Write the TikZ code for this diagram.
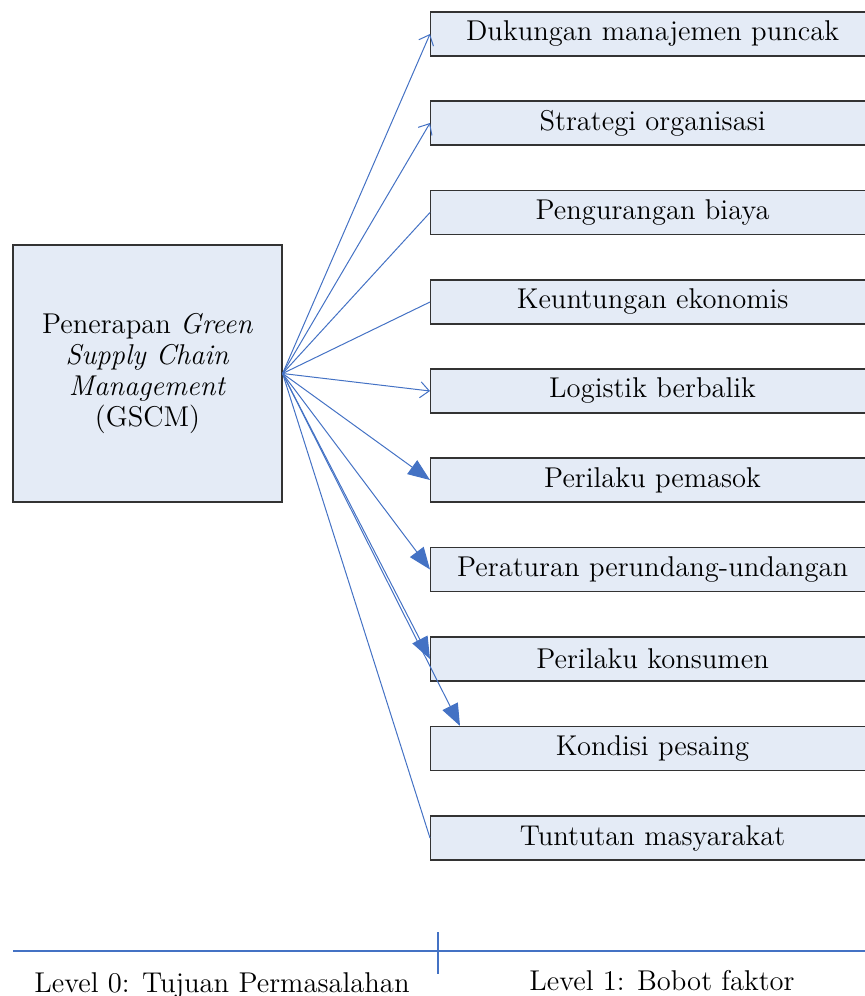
\documentclass[tikz,border=0pt]{standalone}
\usepackage{tikz}
\usetikzlibrary{arrows.meta,calc}

\definecolor{kotak}{HTML}{E4EBF6}
\definecolor{garis}{HTML}{4472C4}
\definecolor{tepi}{HTML}{333333}

\tikzset{
  huruf/.style={font=\fontsize{14.3}{15.5}\selectfont},
  faktor/.style={huruf, draw=tepi, fill=kotak, line width=0.6pt,
    minimum width=222pt, minimum height=22pt, inner sep=0pt, anchor=west},
  tujuan/.style={huruf, draw=tepi, fill=kotak, line width=0.6pt, align=center,
    minimum width=134.5pt, minimum height=128.5pt, inner sep=0pt},
  panah/.style={draw=garis, line width=0.5pt},
  buka/.style={panah, -{Straight Barb[length=4.5pt, width=8pt]}},
  penuh/.style={panah, -{Triangle[length=11pt, width=8.5pt]}},
  sekat/.style={draw=garis, line width=0.6pt}
}

\begin{document}
\begin{tikzpicture}[x=0.5pt, y=-0.5pt]

\useasboundingbox (0,0) rectangle (864,996);

%%%%%%%%%%%%%%%%%%%%%%%%%%%%%%%
\node[tujuan] (gscm) at (147.5,373.5)
  {Penerapan \textit{Green}\\ \textit{Supply Chain}\\ \textit{Management}\\ (GSCM)};

%%%%%%%%%%%%%%%%%%%%%%%%%%%%%%%
\node[faktor] (f1) at (430,34) {Dukungan manajemen puncak};
\node[faktor] (f2) at (430,123) {Strategi organisasi};
\node[faktor] (f3) at (430,212.5) {Pengurangan biaya};
\node[faktor] (f4) at (430,302) {Keuntungan ekonomis};
\node[faktor] (f5) at (430,391) {Logistik berbalik};
\node[faktor] (f6) at (430,480) {Perilaku pemasok};
\node[faktor] (f7) at (430,569.5) {Peraturan perundang-undangan};
\node[faktor] (f8) at (430,659) {Perilaku konsumen};
\node[faktor] (f9) at (430,748.5) {Kondisi pesaing};
\node[faktor] (f10) at (430,838) {Tuntutan masyarakat};

%%%%%%%%%%%%%%%%%%%%%%%%%%%%%%%
\draw[buka] (gscm.east) -- (f1.west);
\draw[buka] (gscm.east) -- (f2.west);
\draw[panah] (gscm.east) -- (f3.west);
\draw[panah] (gscm.east) -- (f4.west);
\draw[buka] (gscm.east) -- (f5.west);
\draw[penuh] (gscm.east) -- (f6.west);
\draw[penuh] (gscm.east) -- (f7.west);
\draw[penuh] (gscm.east) -- (f8.west);
\draw[penuh] (gscm.east) -- ($(f9.north west)+(30,0)$);
\draw[panah] (gscm.east) -- (f10.west);

%%%%%%%%%%%%%%%%%%%%%%%%%%%%%%%
\coordinate (kiri) at (13,951);
\coordinate (kanan) at (866,951);
\coordinate (atas) at (438,932);
\coordinate (bawah) at (438,974);
\draw[sekat] (kiri) -- (kanan);
\draw[sekat] (atas) -- (bawah);

\node[huruf, anchor=base] (lv0) at (222,992) {Level 0: Tujuan Permasalahan};
\node[huruf, anchor=base] (lv1) at (662,990) {Level 1: Bobot faktor};

\end{tikzpicture}
\end{document}
